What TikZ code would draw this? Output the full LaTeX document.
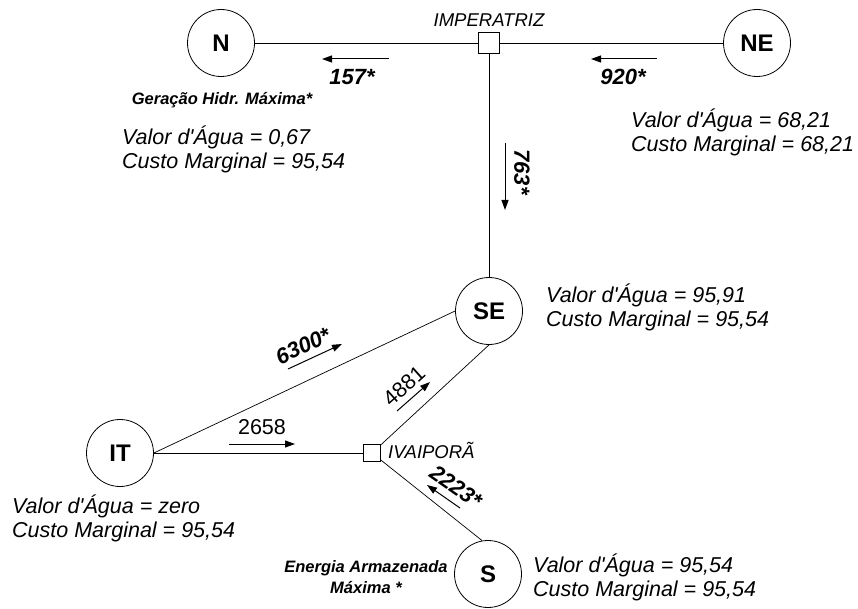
\documentclass[tikz,border=0pt]{standalone}
\usepackage{fontspec}
\setmainfont{Liberation Sans}
\usetikzlibrary{arrows.meta,positioning}

\begin{document}
\begin{tikzpicture}[x=1pt, y=-1pt,
  area/.style={circle, draw, line width=0.8pt, minimum size=67pt, inner sep=0pt, font=\fontsize{24}{28}\selectfont\bfseries},
  bus/.style={rectangle, draw, fill=white, line width=0.8pt, inner sep=0pt, minimum size=#1},
  busname/.style={inner sep=0pt, font=\fontsize{18.5}{22}\selectfont\itshape},
  info/.style={anchor=west, align=left, inner sep=0pt, font=\fontsize{21.5}{24}\selectfont\itshape},
  note/.style={align=center, inner sep=0pt, font=\fontsize{16.5}{20.5}\selectfont\bfseries\itshape},
  link/.style={line width=0.7pt},
  flow/.style={line width=1pt, -{Triangle[length=10pt,width=7pt]}},
  flowlbl/.style={inner sep=0pt, font=\fontsize{22}{26}\selectfont\bfseries\itshape},
  flowval/.style={inner sep=0pt, font=\fontsize{21.5}{26}\selectfont}]
  \useasboundingbox (0,0) rectangle (858,609);

  \node[area] (N)  at (221,43)  {N};
  \node[area] (NE) at (757,43)  {NE};
  \node[area] (SE) at (489,311) {SE};
  \node[area] (IT) at (120,453) {IT};
  \node[area] (S)  at (488,574) {S};
  \node[bus=21pt] (imp)  at (489,43)  {};
  \node[bus=17pt] (ivai) at (372,453) {};
  \node[busname] (impname) at (489,20) {IMPERATRIZ};
  \node[busname, anchor=west] (ivainame) at (388,450) {IVAIPORÃ};

  \draw[link] (N) -- (imp) -- (NE);
  \draw[link] (imp) -- (SE);
  \draw[link] (IT) -- (ivai);
  \draw[link] (IT.east) -- (SE.west);
  \draw[link] (ivai) -- (SE.south);
  \draw[link] (ivai) -- (S.100);

  \coordinate (f157)  at (389,59);
  \coordinate (f920)  at (657,59);
  \coordinate (f763)  at (505,143);
  \coordinate (f6300) at (288,369);
  \coordinate (f4881) at (397,411);
  \coordinate (f2658) at (229,444);
  \coordinate (f2223) at (460,508);
  \draw[flow] (f157)  -- ++(-67,0);
  \draw[flow] (f920)  -- ++(-66,0);
  \draw[flow] (f763)  -- ++(0,67);
  \draw[flow] (f6300) -- ++(54,-25);
  \draw[flow] (f4881) -- ++(33,-29);
  \draw[flow] (f2658) -- ++(66,0);
  \draw[flow] (f2223) -- ++(-33,-23);

  \node[flowlbl] (v157)  at (352,77)  {157*};
  \node[flowlbl] (v920)  at (623,77)  {920*};
  \node[flowlbl, rotate=-90] (v763)  at (522,172) {763*};
  \node[flowlbl, rotate=25]  (v6300) at (303,346) {6300*};
  \node[flowval, rotate=42]  (v4881) at (404,386) {4881};
  \node[flowval] (v2658) at (262,427) {2658};
  \node[flowlbl, rotate=-35] (v2223) at (456,487) {2223*};

  \node[note] (nmax) at (222,100) {Geração Hidr. Máxima*};
  \node[note] (smax) at (366,577) {Energia Armazenada\\Máxima *};

  \node[info] (ninfo)  at (122,149.5) {Valor d\textquotesingle Água = 0,67\\Custo Marginal = 95,54};
  \node[info] (neinfo) at (631,132.5) {Valor d\textquotesingle Água = 68,21\\Custo Marginal = 68,21};
  \node[info] (seinfo) at (546,307.5) {Valor d\textquotesingle Água = 95,91\\Custo Marginal = 95,54};
  \node[info] (itinfo) at (12,518.5)  {Valor d\textquotesingle Água = zero\\Custo Marginal = 95,54};
  \node[info] (sinfo)  at (533,577)   {Valor d\textquotesingle Água = 95,54\\Custo Marginal = 95,54};
\end{tikzpicture}
\end{document}
